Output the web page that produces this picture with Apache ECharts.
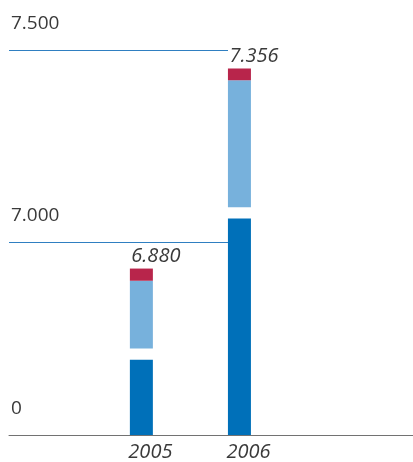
<!DOCTYPE html>
<html>
<head>
<meta charset="utf-8">
<script src="https://cdn.jsdelivr.net/npm/echarts@6/dist/echarts.min.js"></script>
<style>
  html, body { margin: 0; padding: 0; background: #fff; }
  #chart { width: 413px; height: 462px; }
</style>
</head>
<body>
<div id="chart"></div>
<script>
// Years shown on the horizontal axis
const years = [2005, 2006];
// Stacked components per year (bottom, middle, top)
const baseValues = [6690, 7026];
const midValues = [161, 302];
const topValues = [29, 28];
// Labels for the broken value scale (bottom line stands for 0)
const yTickLabels = ['0', '7.000', '7.500'];

const totals = years.map((_, i) => baseValues[i] + midValues[i] + topValues[i]);

// white separator carved out of the top of the bottom segment
const GAP = 27;

const fmt = v => String(Math.round(v)).replace(/\B(?=(\d{3})+(?!\d))/g, '.');

const FONT = '"Open Sans", "Noto Sans", sans-serif';
const TEXT = '#3a3a3a';
const BAR_W = 23;

// value first, year second, so the stack runs along the vertical value
const rows = arr => years.map((y, i) => [arr[i], y]);

const barSeries = (name, color, values, extra) => Object.assign({
  name,
  type: 'bar',
  stack: 'total',
  xAxisIndex: 0,
  yAxisIndex: 0,
  barWidth: BAR_W,
  silent: true,
  encode: { x: 1, y: 0 },
  itemStyle: { color },
  data: rows(values)
}, extra || {});

const chart = echarts.init(document.getElementById('chart'), null, { renderer: 'canvas' });

chart.setOption({
  animation: false,
  grid: [
    // bars and baseline
    { left: 9, right: 0, top: 50, bottom: 27 },
    // reference lines with scale labels
    { left: 9, right: 185, top: 50, bottom: 27 }
  ],
  xAxis: [
    {
      gridIndex: 0,
      type: 'value',
      min: 2003.65,
      max: 2007.77,
      axisLine: { show: true, lineStyle: { color: '#727272', width: 1 } },
      axisTick: { show: false },
      splitLine: { show: false },
      axisLabel: {
        customValues: years,
        formatter: v => String(v),
        color: TEXT,
        fontFamily: FONT,
        fontSize: 20,
        fontStyle: 'italic',
        margin: 7,
        padding: [0, 0, 0, 18]
      }
    },
    { gridIndex: 1, type: 'value', show: false }
  ],
  yAxis: [
    {
      gridIndex: 0,
      type: 'value',
      min: 6484,
      max: 7400,
      show: false,
      splitLine: { show: false }
    },
    {
      gridIndex: 1,
      type: 'value',
      min: 6500,
      max: 7500,
      interval: 500,
      axisLine: { show: false },
      axisTick: { show: false },
      splitLine: {
        show: true,
        showMinLine: false,
        lineStyle: { color: '#2f7fc1', width: 1 }
      },
      axisLabel: {
        inside: true,
        margin: 2,
        formatter: (v, i) => yTickLabels[i],
        color: TEXT,
        fontFamily: FONT,
        fontSize: 19,
        verticalAlign: 'bottom',
        padding: [0, 0, 17, 0]
      }
    }
  ],
  series: [
    barSeries('base', '#0070b9', baseValues.map(v => v - GAP)),
    barSeries('gap', 'rgba(255,255,255,0)', years.map(() => GAP)),
    barSeries('mid', '#77b1dc', midValues),
    barSeries('top', '#b8254b', topValues, {
      label: {
        show: true,
        position: 'top',
        distance: 2,
        formatter: p => fmt(totals[p.dataIndex]),
        color: TEXT,
        fontFamily: FONT,
        fontSize: 20,
        fontStyle: 'italic',
        padding: [0, 0, 0, 29]
      }
    }),
    {
      // anchors the reference grid's axes
      type: 'line',
      xAxisIndex: 1,
      yAxisIndex: 1,
      data: [],
      silent: true
    }
  ]
});
</script>
</body>
</html>
